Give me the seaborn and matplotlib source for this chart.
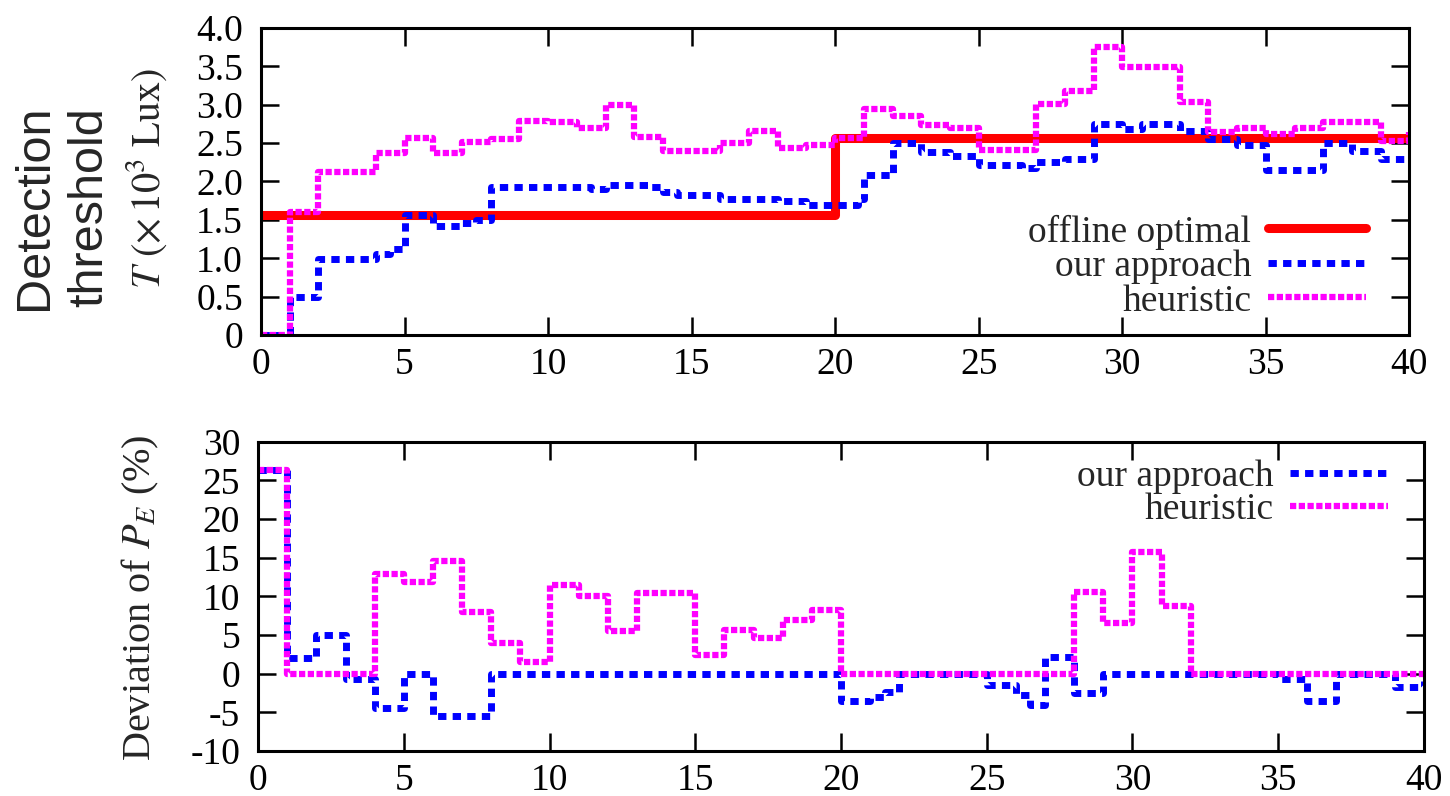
import numpy as np
import pandas as pd
import seaborn as sns
import matplotlib
matplotlib.use("Agg")
import matplotlib.pyplot as plt

# ---- data (step change points, value holds until next x) ----
opt_x = [0, 20, 40]
opt_y = [1.57, 2.57, 2.57]

ours_x = [0, 1, 2, 4, 4.5, 5, 6, 7, 7.5, 8, 11.5, 12, 13.5, 14, 14.5, 16, 18, 19, 20, 20.8,
          21, 22, 23, 24, 25, 26.5, 27, 28, 29, 30, 30.7, 32, 33, 34, 35, 37, 38, 39, 40]
ours_y = [0, 0.50, 0.99, 1.05, 1.12, 1.56, 1.42, 1.46, 1.50, 1.93, 1.90, 1.96, 1.93, 1.86, 1.82,
          1.77, 1.74, 1.70, 1.69, 1.77, 2.08, 2.50, 2.38, 2.33, 2.21, 2.17, 2.25, 2.29, 2.75,
          2.68, 2.75, 2.66, 2.55, 2.47, 2.15, 2.50, 2.40, 2.29, 2.29]

heur_x = [0, 1, 2, 4, 5, 6, 7, 8, 9, 10, 11, 12, 13, 14, 16, 17, 18, 19, 20, 21, 22, 23, 24,
          25, 27, 28, 29, 30, 32, 33, 34, 35, 36, 37, 39, 40]
heur_y = [0, 1.60, 2.13, 2.37, 2.56, 2.37, 2.51, 2.55, 2.79, 2.77, 2.70, 3.00, 2.58, 2.40, 2.50,
          2.66, 2.43, 2.47, 2.57, 2.94, 2.85, 2.73, 2.69, 2.41, 3.01, 3.18, 3.75, 3.49, 3.03,
          2.65, 2.70, 2.62, 2.70, 2.78, 2.53, 2.65]

dev_ours_x = [0, 1, 2, 3, 4, 5, 6, 8, 20, 21, 21.5, 22, 25, 26, 26.5, 27, 28, 29, 35, 36, 37, 39, 40]
dev_ours_y = [26.4, 2.0, 5.0, -0.7, -4.4, 0, -5.5, 0, -3.5, -3.0, -2.4, 0, -1.4, -2.8, -4.0, 2.2,
              -2.5, 0, -0.7, -3.5, 0, -1.7, -1.0]

dev_heur_x = [0, 1, 4, 5, 6, 7, 8, 9, 10, 11, 12, 13, 15, 16, 17, 18, 19, 20, 28, 29, 30, 31, 32, 40]
dev_heur_y = [26.4, 0, 12.9, 11.9, 14.6, 8.0, 4.0, 1.5, 11.5, 10.0, 5.5, 10.4, 2.4, 5.6, 4.6, 7.0,
              8.2, 0, 10.6, 6.5, 15.8, 8.7, 0, 0]

x_ticks = [0, 5, 10, 15, 20, 25, 30, 35, 40]
top_yticks = [0, 0.5, 1.0, 1.5, 2.0, 2.5, 3.0, 3.5, 4.0]
top_ylabels = ['0', '0.5', '1.0', '1.5', '2.0', '2.5', '3.0', '3.5', '4.0']
bot_yticks = [-10, -5, 0, 5, 10, 15, 20, 25, 30]

sns.set_style("ticks")
plt.rcParams['font.family'] = ['Liberation Serif', 'DejaVu Serif']
plt.rcParams['mathtext.fontset'] = 'stix'

fig = plt.figure(figsize=(14.5, 7.96), dpi=100)
ax1 = fig.add_axes([0.180, 0.579, 0.792, 0.386])
ax2 = fig.add_axes([0.178, 0.0565, 0.804, 0.3885])

red = dict(color='#ff0000', linewidth=6.5, linestyle='-')
blue = dict(color='#0000ff', linewidth=5, linestyle=(0, (1.2, 0.9)))
pink = dict(color='#ff00ff', linewidth=4.5, linestyle=(0, (1.0, 0.4)))

sns.lineplot(x=opt_x, y=opt_y, ax=ax1, drawstyle='steps-post', label='offline optimal', **red)
sns.lineplot(x=ours_x, y=ours_y, ax=ax1, drawstyle='steps-post', label='our approach', **blue)
sns.lineplot(x=heur_x, y=heur_y, ax=ax1, drawstyle='steps-post', label='heuristic', **pink)

sns.lineplot(x=dev_ours_x, y=dev_ours_y, ax=ax2, drawstyle='steps-post', label='our approach', **blue)
sns.lineplot(x=dev_heur_x, y=dev_heur_y, ax=ax2, drawstyle='steps-post', label='heuristic', **pink)

for ax in (ax1, ax2):
    ax.set_xlim(0, 40)
    ax.set_xticks(x_ticks)
    ax.set_xticklabels([str(t) for t in x_ticks])
    ax.tick_params(direction='in', length=13, width=1.8, labelsize=27,
                   top=True, right=True, colors='black')
    ax.tick_params(axis='y', pad=13)
    ax.tick_params(axis='x', pad=9)
    for s in ax.spines.values():
        s.set_linewidth(2.2)
        s.set_color('black')
    ax.set_xlabel('')
    ax.set_ylabel('')

ax1.set_ylim(0, 4)
ax1.set_yticks(top_yticks)
ax1.set_yticklabels(top_ylabels)
ax2.set_ylim(-10, 30)
ax2.set_yticks(bot_yticks)
ax2.set_yticklabels([str(t) for t in bot_yticks])

leg1 = ax1.legend(loc='lower right', bbox_to_anchor=(0.975, 0.005), frameon=False, fontsize=27,
                  markerfirst=False, handlelength=2.6, handletextpad=0.45, labelspacing=0.0,
                  borderaxespad=0)
leg2 = ax2.legend(loc='upper right', bbox_to_anchor=(0.982, 0.99), frameon=False, fontsize=27,
                  markerfirst=False, handlelength=2.6, handletextpad=0.45, labelspacing=-0.05,
                  borderaxespad=0)

fig.text(62 / 1450, 1 - 207 / 796, 'Detection\nthreshold', rotation=90, ha='center', va='center',
         fontsize=35, family='Liberation Sans', linespacing=1.3)
fig.text(147 / 1450, 1 - 179 / 796, r'$T\ (\times\,10^3\ \mathrm{Lux})$', rotation=90,
         ha='center', va='center', fontsize=29)
fig.text(140 / 1450, 1 - 598 / 796, r'Deviation of $P_E$ (%)', rotation=90,
         ha='center', va='center', fontsize=29)

fig.savefig('out.png', dpi=100)
